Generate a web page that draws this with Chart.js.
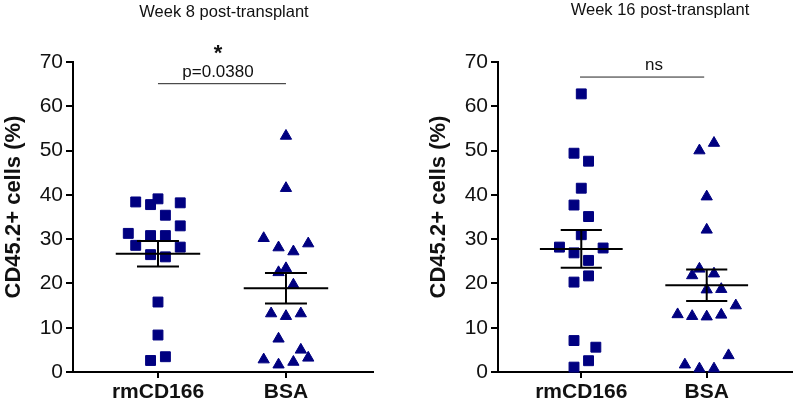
<!DOCTYPE html>
<html>
<head>
<meta charset="utf-8">
<script src="https://cdn.jsdelivr.net/npm/chart.js@4.4.1/dist/chart.umd.min.js"></script>
<style>
  html, body { margin: 0; padding: 0; background: #fff; overflow: hidden; }
  #wrap { position: relative; width: 800px; height: 404px; }
  canvas { position: absolute; top: 0; }
  #week8 { left: 0; }
  #week16 { left: 425px; }
</style>
</head>
<body>
<div id="wrap">
  <canvas id="week8" width="400" height="404"></canvas>
  <canvas id="week16" width="375" height="404"></canvas>
</div>
<script>
const categories = ["rmCD166", "BSA"];
const yAxisTitle = "CD45.2+ cells (%)";
const yMin = 0;
const yMax = 70;
const yStep = 10;

// week 8
const week8Rm = [38.4, 37.8, 39.1, 38.2, 35.4, 33.0, 31.3, 30.8, 30.8, 28.6, 28.2, 26.5, 26.0, 15.8, 8.35, 2.6, 3.45];
const week8RmJitter = [-0.174, -0.058, 0, 0.174, 0.058, 0.174, -0.232, -0.058, 0.058, -0.174, 0.174, -0.058, 0.058, 0, 0, -0.058, 0.058];
const week8Bsa = [53.3, 41.5, 30.2, 28.1, 27.2, 29.0, 22.5, 23.4, 19.7, 13.2, 12.6, 13.2, 7.5, 5.0, 2.8, 1.65, 2.26, 3.2];
const week8BsaJitter = [0, 0, -0.174, -0.058, 0.058, 0.174, -0.058, 0, 0.058, -0.116, 0, 0.116, -0.058, 0.116, -0.174, -0.058, 0.058, 0.174];
const week8Means = [26.7, 18.9];
const week8Sems = [2.9, 3.45];

// week 16
const week16Rm = [62.8, 49.4, 47.6, 41.5, 37.7, 35.1, 31.0, 28.2, 28.0, 26.9, 25.2, 21.7, 20.3, 7.1, 5.6, 2.55, 1.1];
const week16RmJitter = [0, -0.058, 0.058, 0, -0.058, 0.058, 0, -0.174, 0.174, -0.058, 0.058, 0.058, -0.058, -0.058, 0.116, 0.058, -0.058];
const week16Bsa = [50.0, 51.7, 39.6, 32.1, 23.3, 21.8, 22.2, 18.6, 18.7, 15.0, 13.0, 12.6, 12.5, 12.9, 3.75, 1.65, 0.75, 0.75];
const week16BsaJitter = [-0.058, 0.058, 0, 0, -0.058, -0.116, 0.058, 0, 0.116, 0.232, -0.232, -0.116, 0, 0.116, 0.174, -0.174, -0.058, 0.058];
const week16Means = [27.8, 19.6];
const week16Sems = [4.25, 3.55];

const panelTitles = ["Week 8 post-transplant", "Week 16 post-transplant"];
const week8Sig = { from: 1, to: 2, level: 65.1, star: "*", label: "p=0.0380" };
const week16Sig = { from: 0.99, to: 1.98, level: 66.6, star: "", label: "ns" };

const NAVY = "#000080";
const FONT = '"Liberation Sans", Arial, sans-serif';

function toPoints(values, jitter, cat) {
  return values.map((v, i) => ({ x: cat + jitter[i], y: v }));
}

const panelDecor = {
  id: "panelDecor",
  afterDatasetsDraw(chart, args, o) {
    const ctx = chart.ctx;
    const xs = chart.scales.x;
    const ys = chart.scales.y;
    const seg = (x1, y1, x2, y2, w) => {
      ctx.lineWidth = w;
      ctx.beginPath();
      ctx.moveTo(xs.getPixelForValue(x1), ys.getPixelForValue(y1));
      ctx.lineTo(xs.getPixelForValue(x2), ys.getPixelForValue(y2));
      ctx.stroke();
    };
    ctx.save();
    ctx.strokeStyle = "#000";
    // mean +/- SEM
    o.means.forEach((m, i) => {
      const c = i + 1;
      const s = o.sems[i];
      seg(c - 0.33, m, c + 0.33, m, 2);
      seg(c - 0.164, m + s, c + 0.164, m + s, 2);
      seg(c - 0.164, m - s, c + 0.164, m - s, 2);
      seg(c, m - s, c, m + s, 2);
    });
    // significance bar
    const sig = o.sig;
    ctx.strokeStyle = "#222";
    seg(sig.from, sig.level, sig.to, sig.level, 1);
    const lineY = ys.getPixelForValue(sig.level);
    ctx.fillStyle = "#111";
    ctx.textAlign = "center";
    ctx.textBaseline = "alphabetic";
    ctx.font = "17px " + FONT;
    ctx.fillText(sig.label, o.sigX, lineY - 7);
    if (sig.star) {
      ctx.font = "bold 22px " + FONT;
      ctx.fillText(sig.star, o.sigX, lineY - 24);
    }
    // panel title
    ctx.font = "16.5px " + FONT;
    ctx.fillText(o.title, o.titleX, o.titleY);
    // y axis title
    ctx.translate(14, 207);
    ctx.rotate(-Math.PI / 2);
    ctx.font = "bold 22px " + FONT;
    ctx.textBaseline = "middle";
    ctx.fillText(yAxisTitle, 0, 0);
    ctx.restore();
  }
};

function makePanel(id, rm, rmJit, bsa, bsaJit, means, sems, sig, decor, rightPad) {
  return new Chart(document.getElementById(id), {
    type: "scatter",
    data: {
      datasets: [
        {
          data: toPoints(rm, rmJit, 1),
          pointStyle: "rect",
          pointRadius: 7,
          backgroundColor: NAVY,
          borderColor: NAVY,
          borderWidth: 1,
          clip: false
        },
        {
          data: toPoints(bsa, bsaJit, 2),
          pointStyle: "triangle",
          pointRadius: 6.5,
          backgroundColor: NAVY,
          borderColor: NAVY,
          borderWidth: 1,
          clip: false
        }
      ]
    },
    options: {
      responsive: false,
      animation: false,
      layout: { padding: { top: 62, right: rightPad, bottom: 0, left: 0 } },
      plugins: {
        legend: { display: false },
        tooltip: { enabled: false },
        panelDecor: Object.assign({ means, sems, sig }, decor)
      },
      scales: {
        x: {
          type: "linear",
          min: 0.336,
          max: 2.68,
          afterFit: (s) => { s.height = 32; },
          afterBuildTicks: (s) => { s.ticks = [{ value: 1 }, { value: 2 }]; },
          ticks: {
            callback: (v) => categories[v - 1],
            font: { family: FONT, size: 21, weight: "bold" },
            color: "#111",
            padding: 2,
            maxRotation: 0
          },
          grid: { drawOnChartArea: false, drawTicks: true, tickLength: 6, lineWidth: 2, color: "#000" },
          border: { display: true, color: "#000", width: 2 }
        },
        y: {
          min: yMin,
          max: yMax,
          afterFit: (s) => { s.width = 73; },
          ticks: {
            stepSize: yStep,
            font: { family: FONT, size: 21 },
            color: "#111",
            padding: 3
          },
          grid: { drawOnChartArea: false, drawTicks: true, tickLength: 7, lineWidth: 2, color: "#000" },
          border: { display: true, color: "#000", width: 2 }
        }
      }
    },
    plugins: [panelDecor]
  });
}

makePanel("week8", week8Rm, week8RmJitter, week8Bsa, week8BsaJitter, week8Means, week8Sems, week8Sig,
  { title: panelTitles[0], titleX: 224, titleY: 17, sigX: 218 }, 27);
makePanel("week16", week16Rm, week16RmJitter, week16Bsa, week16BsaJitter, week16Means, week16Sems, week16Sig,
  { title: panelTitles[1], titleX: 235, titleY: 15, sigX: 229 }, 2);
</script>
</body>
</html>
